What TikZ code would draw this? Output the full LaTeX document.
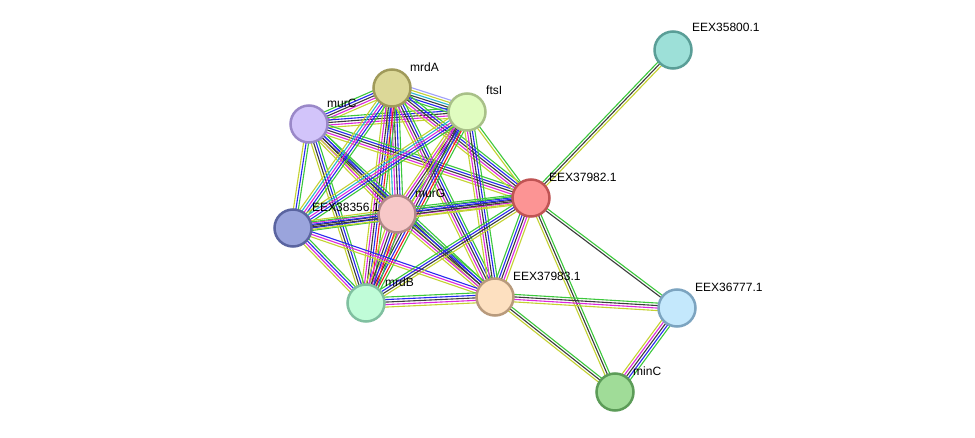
\documentclass[tikz,border=0pt]{standalone}
\usepackage{fontspec}
\setmainfont{Liberation Sans}
\usetikzlibrary{calc,backgrounds}
\definecolor{sg}{HTML}{3CC83C}
\definecolor{sr}{HTML}{F01E1E}
\definecolor{sb}{HTML}{2828F0}
\definecolor{sk}{HTML}{3C3C3C}
\definecolor{sm}{HTML}{DC28DC}
\definecolor{sc}{HTML}{28B4D2}
\definecolor{sy}{HTML}{C4D232}
\definecolor{sh}{HTML}{A0A0FA}
\newcommand\strbundle[3]{%
  \foreach \cc [count=\bii] in {#3}{\xdef\bnn{\bii}}%
  \foreach \cc [count=\bii] in {#3}{%
    \pgfmathsetmacro\boff{((\bnn+1)/2-\bii)*2.5}%
    \draw[line width=1.1pt,\cc] ($(#1.center)!\boff pt!90:(#2.center)$) -- ($(#2.center)!\boff pt!-90:(#1.center)$);%
  }%
}
\begin{document}
\begin{tikzpicture}[x=1pt,y=-1pt,
  prot/.style={circle, minimum size=37pt, inner sep=0pt, line width=2.5pt},
  lab/.style={anchor=west, inner sep=0pt, font=\fontsize{12}{14}\selectfont}]
% nodes
\node[prot, fill={rgb,255:red,157;green,224;blue,216}, draw={rgb,255:red,90;green,158;blue,151}] (n35800) at (673,50) {};
\node[prot, fill={rgb,255:red,220;green,216;blue,152}, draw={rgb,255:red,160;green,154;blue,90}] (mrdA) at (392,88) {};
\node[prot, fill={rgb,255:red,224;green,252;blue,192}, draw={rgb,255:red,168;green,192;blue,136}] (ftsI) at (467,112) {};
\node[prot, fill={rgb,255:red,210;green,196;blue,250}, draw={rgb,255:red,154;green,136;blue,200}] (murC) at (309,124) {};
\node[prot, fill={rgb,255:red,252;green,148;blue,148}, draw={rgb,255:red,192;green,84;blue,84}] (n37982) at (531,198) {};
\node[prot, fill={rgb,255:red,247;green,200;blue,200}, draw={rgb,255:red,176;green,136;blue,136}] (murG) at (397,214) {};
\node[prot, fill={rgb,255:red,154;green,164;blue,220}, draw={rgb,255:red,90;green,100;blue,160}] (n38356) at (293,228) {};
\node[prot, fill={rgb,255:red,192;green,252;blue,216}, draw={rgb,255:red,128;green,192;blue,160}] (mrdB) at (366,303) {};
\node[prot, fill={rgb,255:red,253;green,224;blue,192}, draw={rgb,255:red,184;green,154;blue,124}] (n37983) at (495,297) {};
\node[prot, fill={rgb,255:red,196;green,232;blue,252}, draw={rgb,255:red,124;green,164;blue,192}] (n36777) at (677,308) {};
\node[prot, fill={rgb,255:red,160;green,220;blue,152}, draw={rgb,255:red,92;green,156;blue,88}] (minC) at (615,392) {};
% labels
\node[lab] (l35800) at (692,27) {EEX35800.1};
\node[lab] (l37982) at (549,177) {EEX37982.1};
\node[lab] (lmrdA) at (410,67) {mrdA};
\node[lab] (lftsI) at (486,90) {ftsI};
\node[lab] (lmurC) at (327,103) {murC};
\node[lab] (lmurG) at (415,193) {murG};
\node[lab] (l38356) at (312,207) {EEX38356.1};
\node[lab] (lmrdB) at (385,282) {mrdB};
\node[lab] (l37983) at (513,276) {EEX37983.1};
\node[lab] (l36777) at (695,287) {EEX36777.1};
\node[lab] (lminC) at (633,371) {minC};
\begin{pgfonlayer}{background}
\fill[white] (0,0) rectangle (975,438);
\strbundle{murC}{mrdA}{sg,sb,sk,sm,sy}
\strbundle{murC}{ftsI}{sg,sb,sk,sm,sy}
\strbundle{mrdA}{ftsI}{sh,sy,sc,sk,sb,sg}
\strbundle{mrdA}{murG}{sg,sb,sk,sm,sc,sy}
\strbundle{mrdA}{mrdB}{sg,sr,sb,sk,sm,sy}
\strbundle{murC}{murG}{sg,sb,sk,sm,sy}
\strbundle{murC}{n38356}{sg,sb,sy}
\strbundle{murC}{mrdB}{sg,sb,sk,sy}
\strbundle{murC}{n37983}{sg,sb,sk,sy}
\strbundle{murC}{n37982}{sg,sb,sk,sm,sy}
\strbundle{mrdA}{n38356}{sg,sb,sm,sc,sy}
\strbundle{mrdA}{n37982}{sg,sb,sk,sm,sy}
\strbundle{mrdA}{n37983}{sg,sb,sk,sm,sy}
\strbundle{ftsI}{murG}{sg,sb,sk,sm,sy}
\strbundle{ftsI}{mrdB}{sg,sr,sb,sk,sm,sy}
\strbundle{ftsI}{n38356}{sg,sb,sm,sc,sy}
\strbundle{ftsI}{n37982}{sg,sy}
\strbundle{ftsI}{n37983}{sg,sb,sk,sm,sy}
\strbundle{murG}{n38356}{sg,sb,sk,sm,sy}
\strbundle{murG}{n37982}{sg,sb,sk,sm,sy}
\strbundle{murG}{mrdB}{sg,sr,sb,sk,sm,sy}
\strbundle{murG}{n37983}{sg,sb,sk,sm,sy}
\strbundle{n38356}{mrdB}{sg,sb,sm,sy}
\strbundle{n38356}{n37983}{sb,sm,sy}
\strbundle{n38356}{n37982}{sg,sb,sk,sy}
\strbundle{mrdB}{n37983}{sg,sb,sk,sm,sy}
\strbundle{mrdB}{n37982}{sg,sb,sk,sy}
\strbundle{n37983}{n37982}{sg,sb,sk,sm,sy}
\strbundle{n37982}{n35800}{sg,sk,sy}
\strbundle{n37982}{n36777}{sg,sk}
\strbundle{n37982}{minC}{sg,sk,sy}
\strbundle{n37983}{n36777}{sg,sk,sm,sy}
\strbundle{n37983}{minC}{sg,sk,sy}
\strbundle{n36777}{minC}{sg,sb,sk,sm,sy}
\end{pgfonlayer}
\end{tikzpicture}
\end{document}
